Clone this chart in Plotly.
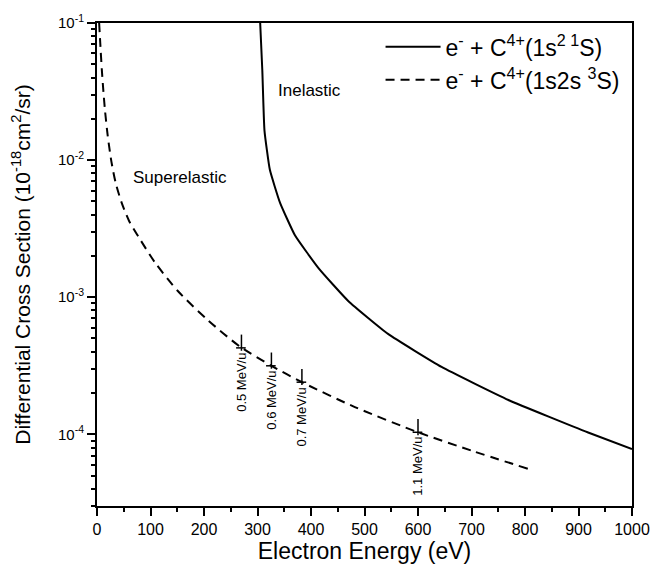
import math
import plotly.graph_objects as go

# Inelastic: e- + C4+(1s2 1S)
inel_E = [305, 309, 313, 323, 342, 370, 414, 470, 544, 644, 769, 918, 1000]
inel_y = [0.1, 0.045, 0.0165, 0.00853, 0.0049, 0.00283, 0.00163, 9.35e-4, 5.4e-4, 3.1e-4, 1.78e-4, 1.03e-4, 7.8e-5]

# Superelastic: e- + C4+(1s2s 3S)
sup_E = [4, 6, 9, 12, 15, 20, 27, 35, 46, 60, 77, 108, 152, 208, 267, 326, 383, 482, 600, 700, 806]
sup_y = [0.1, 0.0724, 0.0457, 0.0316, 0.0229, 0.0151, 0.0097, 0.0068, 0.0049, 0.0036, 0.00278,
         0.0018, 0.0011, 6.76e-4, 4.37e-4, 3.16e-4, 2.4e-4, 1.58e-4, 1.035e-4, 7.6e-5, 5.6e-5]

# Ion-velocity markers on superelastic curve
mark_labels = ["0.5 MeV/u", "0.6 MeV/u", "0.7 MeV/u", "1.1 MeV/u"]
mark_E = [270, 326, 383, 600]
mark_y = [4.27e-4, 3.16e-4, 2.4e-4, 1.035e-4]

x_ticks = list(range(0, 1001, 100))
x_minor = list(range(50, 1000, 100))
y_tickvals = [1e-4, 1e-3, 1e-2, 1e-1]
y_ticktext = ["10<sup>-4</sup>", "10<sup>-3</sup>", "10<sup>-2</sup>", "10<sup>-1</sup>"]
y_minor = [m * 10.0 ** d for d in range(-5, -1) for m in range(2, 10)]

FONT = "Liberation Sans, Arial, sans-serif"
Y_RANGE = [math.log10(3e-5), -1]
TC = "black"

fig = go.Figure()
fig.add_trace(go.Scatter(
    x=inel_E, y=inel_y, mode="lines", line=dict(color="black", width=2, shape="spline", smoothing=0.4),
    name="e<sup>-</sup> + C<sup>4+</sup>(1s<sup>2 1</sup>S)"))
fig.add_trace(go.Scatter(
    x=sup_E, y=sup_y, mode="lines", line=dict(color="black", width=2, dash="9px,6px", shape="spline", smoothing=0.7),
    name="e<sup>-</sup> + C<sup>4+</sup>(1s2s <sup>3</sup>S)"))
# empty trace carrying the minor-tick axes
fig.add_trace(go.Scatter(x=[], y=[], xaxis="x2", yaxis="y2", showlegend=False, hoverinfo="skip"))

shapes = []
annotations = []
for lab, e, v in zip(mark_labels, mark_E, mark_y):
    shapes.append(dict(type="line", xref="x", yref="y", x0=e, x1=e, y0=v / 1.05, y1=v * 1.25,
                       line=dict(color="black", width=1.5)))
    shapes.append(dict(type="line", xref="x", yref="y", x0=e - 10, x1=e + 8, y0=v, y1=v,
                       line=dict(color="black", width=1.5)))
    annotations.append(dict(x=e, y=math.log10(v), xref="x", yref="y", yshift=-3, text=lab, textangle=-90,
                            showarrow=False, xanchor="center", yanchor="top",
                            font=dict(size=13, color="black", family=FONT)))

annotations.append(dict(x=398, y=-1.493, xref="x", yref="y", text="Inelastic", showarrow=False,
                        xanchor="center", yanchor="middle", font=dict(size=17, color="black", family=FONT)))
annotations.append(dict(x=156, y=-2.127, xref="x", yref="y", text="Superelastic", showarrow=False,
                        xanchor="center", yanchor="middle", font=dict(size=17, color="black", family=FONT)))

fig.update_layout(
    width=671, height=578,
    margin=dict(l=97, r=39, t=16, b=72),
    paper_bgcolor="white", plot_bgcolor="white",
    font=dict(family=FONT, color="black", size=15),
    showlegend=True,
    legend=dict(x=0.53, y=0.995, xanchor="left", yanchor="top", bgcolor="rgba(0,0,0,0)",
                font=dict(size=23, family=FONT), tracegroupgap=0, itemwidth=55),
    shapes=shapes, annotations=annotations,
    xaxis=dict(
        range=[0, 1000], tickvals=x_ticks, ticks="outside", ticklen=8, tickwidth=2, tickcolor=TC,
        showline=True, linewidth=2, linecolor="black", mirror=True, showgrid=False, zeroline=False,
        tickfont=dict(size=16), title=dict(text="Electron Energy (eV)", font=dict(size=23), standoff=6),
    ),
    yaxis=dict(
        type="log", range=Y_RANGE, tickvals=y_tickvals, ticktext=y_ticktext,
        ticks="outside", ticklen=8, tickwidth=2, tickcolor=TC,
        showline=True, linewidth=2, linecolor="black", mirror=True, showgrid=False, zeroline=False,
        tickfont=dict(size=15),
        title=dict(text="Differential Cross Section (10<sup>-18</sup>cm<sup>2</sup>/sr)", font=dict(size=21),
                   standoff=22),
    ),
    xaxis2=dict(
        overlaying="x", anchor="y2", side="bottom", range=[0, 1000], tickvals=x_minor, ticks="outside",
        ticklen=5, tickwidth=2, tickcolor=TC, showticklabels=False, showline=False, showgrid=False,
        zeroline=False,
    ),
    yaxis2=dict(
        overlaying="y", anchor="x2", side="left", type="log", range=Y_RANGE, tickvals=y_minor, ticks="outside",
        ticklen=5, tickwidth=2, tickcolor=TC, showticklabels=False, showline=False, showgrid=False,
        zeroline=False,
    ),
)
fig.write_html("out.html")
